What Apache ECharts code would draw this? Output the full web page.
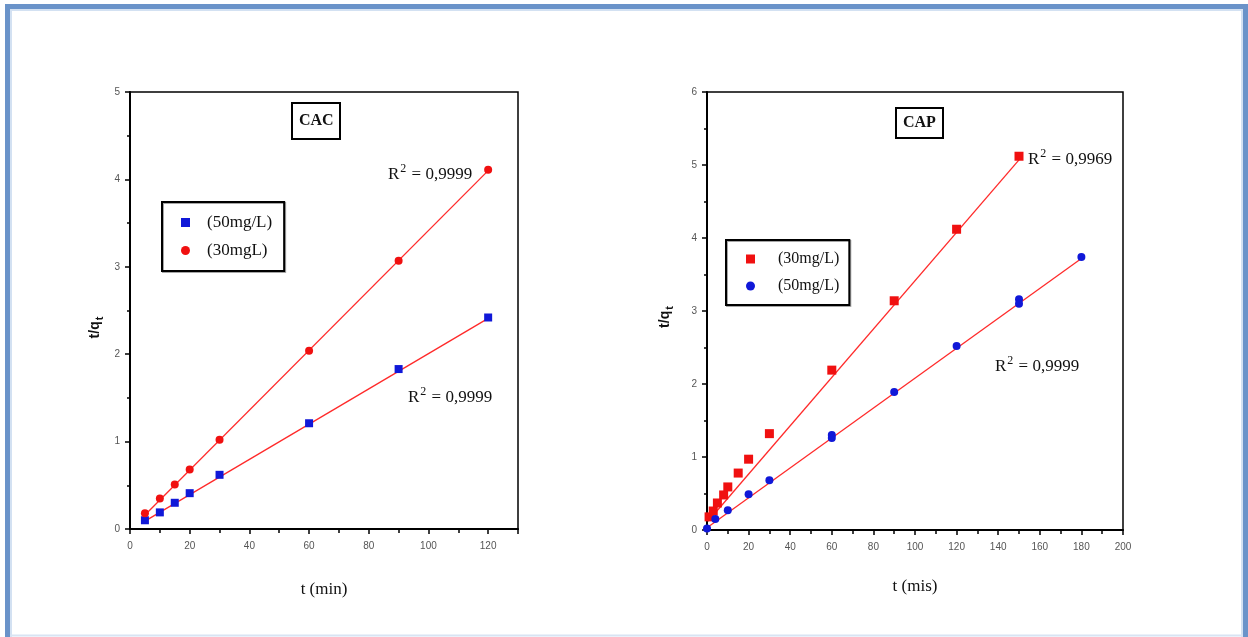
<!DOCTYPE html>
<html>
<head>
<meta charset="utf-8">
<script src="https://cdn.jsdelivr.net/npm/echarts@6/dist/echarts.min.js"></script>
<style>
  html, body { margin: 0; padding: 0; background: #fff; }
  #chart { width: 1248px; height: 637px; }
</style>
</head>
<body>
<div id="chart"></div>
<script>
// CAC panel (left)
const cacTime = [5, 10, 15, 20, 30, 60, 90, 120];
const cac50 = [0.10, 0.19, 0.30, 0.41, 0.62, 1.21, 1.83, 2.42];
const cac30 = [0.18, 0.35, 0.51, 0.68, 1.02, 2.04, 3.07, 4.11];
const cacFit50 = [[5, 0.09], [120, 2.41]];
const cacFit30 = [[5, 0.16], [120, 4.10]];

// CAP panel (right)
const capTime30 = [1, 3, 5, 8, 10, 15, 20, 30, 60, 90, 120, 150];
const cap30 = [0.18, 0.26, 0.37, 0.48, 0.59, 0.78, 0.97, 1.32, 2.19, 3.14, 4.12, 5.12];
const capTime50 = [0, 4, 10, 20, 30, 60, 60, 90, 120, 150, 150, 180];
const cap50 = [0.02, 0.15, 0.27, 0.49, 0.68, 1.30, 1.26, 1.89, 2.52, 3.16, 3.10, 3.74];
const capFit30 = [[0.5, 0.12], [150, 5.07]];
const capFit50 = [[0, 0.03], [180, 3.72]];

const serif = 'Liberation Serif';
const red = '#f01010';
const blue = '#1018d8';

const pair = (xs, ys) => xs.map((x, i) => [x, ys[i]]);

function xAxisOf(gridIndex, max, name, gap) {
  return {
    type: 'value', gridIndex: gridIndex, min: 0, max: max, interval: 20,
    name: name, nameLocation: 'middle', nameGap: gap,
    nameTextStyle: { fontFamily: serif, fontSize: 17, color: '#111' },
    axisLine: { onZero: false, lineStyle: { color: '#000', width: 2 } },
    axisTick: { length: 5, lineStyle: { color: '#000', width: 1.5 } },
    minorTick: { show: true, splitNumber: 2, length: 4, lineStyle: { color: '#000', width: 1.5 } },
    axisLabel: { showMaxLabel: max % 20 === 0, margin: 12, fontSize: 10, color: '#555', fontFamily: 'Liberation Sans' },
    splitLine: { show: false }
  };
}

function yAxisOf(gridIndex, max, gap, shift) {
  return {
    type: 'value', gridIndex: gridIndex, min: 0, max: max, interval: 1,
    name: '{a|t/q}{b|t}', nameLocation: 'middle', nameGap: gap, nameRotate: 90,
    nameTextStyle: {
      padding: [0, shift, 0, 0],
      rich: {
        a: { fontFamily: 'Liberation Sans', fontWeight: 'bold', fontSize: 14, color: '#111' },
        b: { fontFamily: 'Liberation Sans', fontWeight: 'bold', fontSize: 11, color: '#111', padding: [8, 0, 0, 1] }
      }
    },
    axisLine: { onZero: false, lineStyle: { color: '#000', width: 2 } },
    axisTick: { length: 5, lineStyle: { color: '#000', width: 1.5 } },
    minorTick: { show: true, splitNumber: 2, length: 3, lineStyle: { color: '#000', width: 1.5 } },
    axisLabel: { margin: 10, fontSize: 10, color: '#555', fontFamily: 'Liberation Sans' },
    splitLine: { show: false }
  };
}

function r2Label(x, y, value) {
  return {
    type: 'text', x: x, y: y,
    style: {
      text: '{r|R}{s|2}{r| = ' + value + '}',
      verticalAlign: 'middle',
      rich: {
        r: { fontFamily: serif, fontSize: 17, fill: '#111' },
        s: { fontFamily: serif, fontSize: 12, fill: '#111', padding: [0, 1, 13, 1] }
      }
    }
  };
}

function fitLine(name, xi, data) {
  return {
    name: name, type: 'line', xAxisIndex: xi, yAxisIndex: xi, data: data,
    showSymbol: false, silent: true, z: 1,
    lineStyle: { color: '#ff2a2a', width: 1.3 }
  };
}

const legendBox = {
  orient: 'vertical', borderColor: '#000', borderWidth: 2,
  shadowColor: 'rgba(0,0,0,0.35)', shadowOffsetX: 1, shadowOffsetY: 1,
  itemWidth: 9, itemHeight: 9, itemGap: 11
};

const option = {
  animation: false,
  backgroundColor: '#fff',
  title: [
    {
      text: 'CAC', left: 292, top: 103, padding: [10, 7],
      borderColor: '#000', borderWidth: 2,
      textStyle: { fontFamily: serif, fontSize: 16, fontWeight: 'bold', color: '#111' }
    },
    {
      text: 'CAP', left: 896, top: 108, padding: [7, 7],
      borderColor: '#000', borderWidth: 2,
      textStyle: { fontFamily: serif, fontSize: 16, fontWeight: 'bold', color: '#111' }
    }
  ],
  legend: [
    Object.assign({}, legendBox, {
      left: 162, top: 202, padding: [12, 12, 12, 19],
      textStyle: { fontFamily: serif, fontSize: 17, color: '#111', padding: [0, 0, 0, 12] },
      data: [
        { name: '(50mg/L)', icon: 'rect' },
        { name: '(30mgL)', icon: 'circle' }
      ]
    }),
    Object.assign({}, legendBox, {
      left: 726, top: 240, padding: [11, 10, 11, 20],
      textStyle: { fontFamily: serif, fontSize: 16, color: '#111', padding: [0, 0, 0, 18] },
      data: [
        { name: '(30mg/L)', icon: 'rect' },
        { name: '(50mg/L)', icon: 'circle' }
      ]
    })
  ],
  grid: [
    { left: 130, top: 92, width: 388, height: 437, show: true, borderColor: '#000', borderWidth: 1.5 },
    { left: 707, top: 92, width: 416, height: 438, show: true, borderColor: '#000', borderWidth: 1.5 }
  ],
  xAxis: [
    xAxisOf(0, 130, 't (min)', 52),
    xAxisOf(1, 200, 't (mis)', 48)
  ],
  yAxis: [
    yAxisOf(0, 5, 25, 34),
    yAxisOf(1, 6, 32, 12)
  ],
  series: [
    fitLine('fit50 CAC', 0, cacFit50),
    fitLine('fit30 CAC', 0, cacFit30),
    {
      name: '(50mg/L)', type: 'scatter', xAxisIndex: 0, yAxisIndex: 0,
      data: pair(cacTime, cac50), symbol: 'rect', symbolSize: 8,
      itemStyle: { color: blue, opacity: 1 }
    },
    {
      name: '(30mgL)', type: 'scatter', xAxisIndex: 0, yAxisIndex: 0,
      data: pair(cacTime, cac30), symbol: 'circle', symbolSize: 8,
      itemStyle: { color: red, opacity: 1 }
    },
    fitLine('fit30 CAP', 1, capFit30),
    fitLine('fit50 CAP', 1, capFit50),
    {
      name: '(30mg/L)', type: 'scatter', xAxisIndex: 1, yAxisIndex: 1,
      data: pair(capTime30, cap30), symbol: 'rect', symbolSize: 9,
      itemStyle: { color: red, opacity: 1 }
    },
    {
      name: '(50mg/L)', type: 'scatter', xAxisIndex: 1, yAxisIndex: 1,
      data: pair(capTime50, cap50), symbol: 'circle', symbolSize: 8,
      itemStyle: { color: blue, opacity: 1 }
    }
  ],
  graphic: [
    // outer blue frame
    { type: 'rect', silent: true, shape: { x: 7.5, y: 6.5, width: 1238, height: 680 },
      style: { fill: 'none', stroke: '#6a93c9', lineWidth: 5 } },
    { type: 'rect', silent: true, shape: { x: 11, y: 10, width: 1231, height: 680 },
      style: { fill: 'none', stroke: '#d3e1f2', lineWidth: 2 } },
    { type: 'line', silent: true, shape: { x1: 10, y1: 635.5, x2: 1243, y2: 635.5 },
      style: { stroke: '#d8e4f3', lineWidth: 2 } },
    r2Label(388, 175, '0,9999'),
    r2Label(408, 398, '0,9999'),
    r2Label(1028, 160, '0,9969'),
    r2Label(995, 367, '0,9999')
  ]
};

const myChart = echarts.init(document.getElementById('chart'));
myChart.setOption(option);
</script>
</body>
</html>
